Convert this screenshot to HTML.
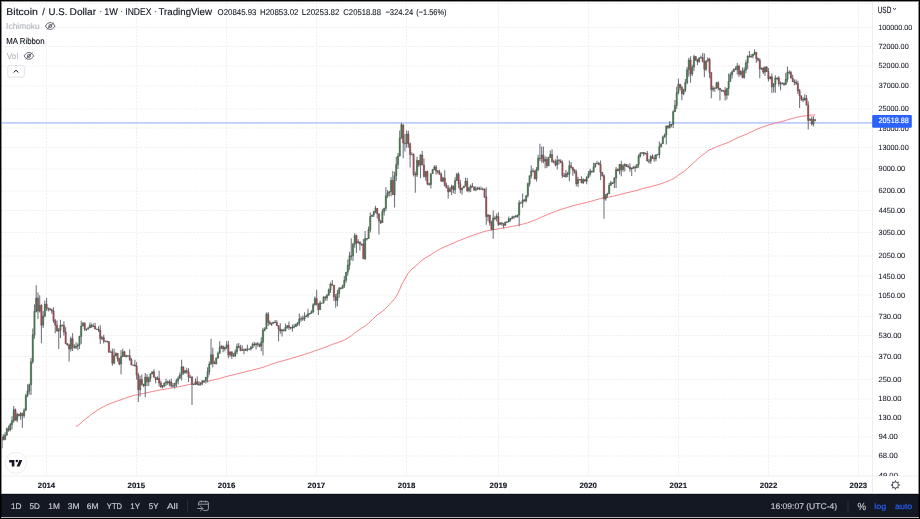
<!DOCTYPE html>
<html><head><meta charset="utf-8"><style>
html,body{margin:0;padding:0;}
body{width:920px;height:519px;overflow:hidden;position:relative;background:#fff;}
svg{position:absolute;left:0;top:0;font-family:"Liberation Sans", Arial, sans-serif;}
text{text-rendering:geometricPrecision;}
</style></head><body>
<svg width="920" height="519" viewBox="0 0 920 519">
<path d="M46.5 2V476 M136.5 2V476 M226.5 2V476 M316.5 2V476 M406.5 2V476 M498.5 2V476 M588.5 2V476 M678.5 2V476 M768.5 2V476 M858.5 2V476 M2 3.6H872 M2 27.5H872 M2 46.5H872 M2 66.0H872 M2 86.0H872 M2 109.0H872 M2 128.0H872 M2 147.5H872 M2 169.0H872 M2 191.0H872 M2 210.5H872 M2 232.5H872 M2 256.0H872 M2 276.0H872 M2 295.0H872 M2 316.5H872 M2 335.5H872 M2 356.5H872 M2 379.5H872 M2 399.0H872 M2 418.0H872 M2 437.0H872 M2 456.0H872" stroke="#efefef" stroke-width="1" stroke-dasharray="2 1.3" fill="none"/>
<line x1="872.5" y1="2" x2="872.5" y2="493" stroke="#eeeeee" stroke-width="1"/>
<line x1="1" y1="476" x2="918" y2="476" stroke="#efefef" stroke-width="1.2"/>
<line x1="2" y1="122.9" x2="872" y2="122.9" stroke="#bccdfd" stroke-width="1.8"/>
<path d="M76.03 426.73 L77.76 425.56 L79.49 424.24 L81.22 422.70 L82.95 421.12 L84.68 419.73 L86.41 418.37 L88.14 417.02 L89.88 415.63 L91.61 414.30 L93.34 413.00 L95.07 411.78 L96.80 410.59 L98.53 409.45 L100.26 408.47 L101.99 407.50 L103.72 406.60 L105.45 405.71 L107.19 404.85 L108.92 404.13 L110.65 403.42 L112.38 402.84 L114.11 402.18 L115.84 401.51 L117.57 400.91 L119.30 400.36 L121.03 399.75 L122.76 399.09 L124.50 398.48 L126.23 397.88 L127.96 397.28 L129.69 396.73 L131.42 396.22 L133.15 395.73 L134.88 395.24 L136.61 394.83 L138.34 394.51 L140.07 394.13 L141.81 393.79 L143.54 393.46 L145.27 393.07 L147.00 392.72 L148.73 392.35 L150.46 391.95 L152.19 391.55 L153.92 391.18 L155.65 390.84 L157.38 390.48 L159.12 390.17 L160.85 389.89 L162.58 389.60 L164.31 389.29 L166.04 388.98 L167.77 388.68 L169.50 388.37 L171.23 388.08 L172.96 387.79 L174.69 387.48 L176.43 387.17 L178.16 386.84 L179.89 386.49 L181.62 386.09 L183.35 385.73 L185.08 385.36 L186.81 385.00 L188.54 384.67 L190.27 384.34 L192.00 384.05 L193.74 383.76 L195.47 383.47 L197.20 383.18 L198.93 382.90 L200.66 382.61 L202.39 382.31 L204.12 382.01 L205.85 381.70 L207.58 381.35 L209.31 380.97 L211.05 380.52 L212.78 380.13 L214.51 379.75 L216.24 379.34 L217.97 378.89 L219.70 378.39 L221.43 377.89 L223.16 377.42 L224.89 376.94 L226.62 376.44 L228.36 376.02 L230.09 375.58 L231.82 375.18 L233.55 374.77 L235.28 374.35 L237.01 373.88 L238.74 373.43 L240.47 373.00 L242.20 372.57 L243.93 372.15 L245.66 371.72 L247.40 371.30 L249.13 370.88 L250.86 370.45 L252.59 370.00 L254.32 369.56 L256.05 369.11 L257.78 368.67 L259.51 368.25 L261.24 367.80 L262.98 367.25 L264.71 366.70 L266.44 366.00 L268.17 365.40 L269.90 364.82 L271.63 364.23 L273.36 363.64 L275.09 363.06 L276.82 362.52 L278.55 362.01 L280.29 361.53 L282.02 361.04 L283.75 360.56 L285.48 360.05 L287.21 359.54 L288.94 359.04 L290.67 358.56 L292.40 358.06 L294.13 357.58 L295.86 357.07 L297.60 356.56 L299.33 356.01 L301.06 355.47 L302.79 354.94 L304.52 354.39 L306.25 353.84 L307.98 353.28 L309.71 352.72 L311.44 352.15 L313.17 351.52 L314.91 350.82 L316.64 350.22 L318.37 349.68 L320.10 349.07 L321.83 348.47 L323.56 347.85 L325.29 347.25 L327.02 346.62 L328.75 345.93 L330.48 345.17 L332.22 344.44 L333.95 343.86 L335.68 343.33 L337.41 342.72 L339.14 342.05 L340.87 341.38 L342.60 340.70 L344.33 339.94 L346.06 339.06 L347.79 338.09 L349.53 336.96 L351.26 335.86 L352.99 334.54 L354.72 333.03 L356.45 331.74 L358.18 330.47 L359.91 329.28 L361.64 328.10 L363.37 327.22 L365.10 325.97 L366.84 324.75 L368.57 323.35 L370.30 321.63 L372.03 319.94 L373.76 318.19 L375.49 316.41 L377.22 314.88 L378.95 313.65 L380.68 312.58 L382.41 311.34 L384.15 309.95 L385.88 308.24 L387.61 306.39 L389.34 304.60 L391.07 302.50 L392.80 300.95 L394.53 298.78 L396.26 296.19 L397.99 293.30 L399.72 289.49 L401.46 284.97 L403.19 281.89 L404.92 278.99 L406.65 275.75 L408.38 273.16 L410.11 271.09 L411.84 269.07 L413.57 267.70 L415.30 266.37 L417.03 264.69 L418.77 263.18 L420.50 261.43 L422.23 260.00 L423.96 258.87 L425.69 257.66 L427.42 256.72 L429.15 255.82 L430.88 254.73 L432.61 253.57 L434.34 252.38 L436.08 251.30 L437.81 250.26 L439.54 249.28 L441.27 248.43 L443.00 247.54 L444.73 246.77 L446.46 246.04 L448.19 245.36 L449.92 244.66 L451.65 243.92 L453.39 243.25 L455.12 242.44 L456.85 241.56 L458.58 240.81 L460.31 240.16 L462.04 239.49 L463.77 238.81 L465.50 238.06 L467.23 237.45 L468.96 236.81 L470.70 236.16 L472.43 235.52 L474.16 234.93 L475.89 234.32 L477.62 233.71 L479.35 233.12 L481.08 232.53 L482.81 231.94 L484.54 231.43 L486.27 231.07 L488.01 230.71 L489.74 230.39 L491.47 230.12 L493.20 229.78 L494.93 229.45 L496.66 229.11 L498.39 228.82 L500.12 228.52 L501.85 228.22 L503.58 227.93 L505.32 227.63 L507.05 227.33 L508.78 227.01 L510.51 226.69 L512.24 226.37 L513.97 226.04 L515.70 225.72 L517.43 225.39 L519.16 224.98 L520.89 224.57 L522.62 224.15 L524.36 223.73 L526.09 223.28 L527.82 222.74 L529.55 222.11 L531.28 221.43 L533.01 220.77 L534.74 220.19 L536.47 219.52 L538.20 218.71 L539.94 217.91 L541.67 217.07 L543.40 216.34 L545.13 215.58 L546.86 214.92 L548.59 214.16 L550.32 213.37 L552.05 212.68 L553.78 212.01 L555.51 211.38 L557.25 210.71 L558.98 210.05 L560.71 209.42 L562.44 208.92 L564.17 208.44 L565.90 207.94 L567.63 207.45 L569.36 206.88 L571.09 206.34 L572.82 205.82 L574.56 205.33 L576.29 204.93 L578.02 204.50 L579.75 204.08 L581.48 203.68 L583.21 203.27 L584.94 202.86 L586.67 202.44 L588.40 201.99 L590.13 201.51 L591.87 201.05 L593.60 200.55 L595.33 200.02 L597.06 199.50 L598.79 198.99 L600.52 198.56 L602.25 198.15 L603.98 197.89 L605.71 197.60 L607.44 197.31 L609.18 196.98 L610.91 196.64 L612.64 196.31 L614.37 195.95 L616.10 195.52 L617.83 195.11 L619.56 194.65 L621.29 194.23 L623.02 193.79 L624.75 193.34 L626.49 192.90 L628.22 192.47 L629.95 192.07 L631.68 191.66 L633.41 191.24 L635.14 190.83 L636.87 190.40 L638.60 189.91 L640.33 189.39 L642.06 188.87 L643.80 188.37 L645.53 187.87 L647.26 187.44 L648.99 187.02 L650.72 186.56 L652.45 186.11 L654.18 185.68 L655.91 185.22 L657.64 184.76 L659.37 184.24 L661.11 183.70 L662.84 183.09 L664.57 182.46 L666.30 181.74 L668.03 181.04 L669.76 180.31 L671.49 179.60 L673.22 178.71 L674.95 177.74 L676.68 176.55 L678.42 175.20 L680.15 173.94 L681.88 172.84 L683.61 171.69 L685.34 170.41 L687.07 168.84 L688.80 167.04 L690.53 165.66 L692.26 164.16 L693.99 162.40 L695.73 160.80 L697.46 159.29 L699.19 157.73 L700.92 156.21 L702.65 154.82 L704.38 153.64 L706.11 152.29 L707.84 150.94 L709.57 149.88 L711.30 149.13 L713.04 148.37 L714.77 147.62 L716.50 146.83 L718.23 146.13 L719.96 145.46 L721.69 144.82 L723.42 144.18 L725.15 143.58 L726.88 142.91 L728.61 142.17 L730.35 141.35 L732.08 140.51 L733.81 139.65 L735.54 138.81 L737.27 137.95 L739.00 137.20 L740.73 136.46 L742.46 135.84 L744.19 135.15 L745.92 134.43 L747.66 133.67 L749.39 132.83 L751.12 132.00 L752.85 131.19 L754.58 130.30 L756.31 129.51 L758.04 128.75 L759.77 128.07 L761.50 127.39 L763.23 126.81 L764.97 126.16 L766.70 125.59 L768.43 125.09 L770.16 124.55 L771.89 124.13 L773.62 123.66 L775.35 123.12 L777.08 122.62 L778.81 122.18 L780.54 121.76 L782.28 121.32 L784.01 120.89 L785.74 120.42 L787.47 119.85 L789.20 119.31 L790.93 118.81 L792.66 118.35 L794.39 117.89 L796.12 117.46 L797.85 117.09 L799.59 116.75 L801.32 116.45 L803.05 116.18 L804.78 115.87 L806.51 115.60 L808.24 115.42 L809.97 115.23 L811.70 115.07 L813.43 114.88 L815.16 114.70" stroke="#f4707a" stroke-width="0.9" fill="none"/>
<path d="M1.59 435.09V449.43M3.32 434.32V440.52M5.06 432.19V440.21M6.79 427.47V435.71M8.52 425.48V431.64M10.25 423.04V431.44M11.98 416.20V429.57M13.71 406.03V422.79M15.44 408.56V420.39M17.17 412.72V422.29M18.90 413.73V416.49M20.64 412.03V419.75M22.37 412.70V427.70M24.10 408.36V418.01M25.83 393.74V410.84M27.56 384.36V397.15M29.29 383.40V394.39M31.02 357.93V394.89M32.75 328.38V363.85M34.48 304.19V338.73M36.21 285.36V312.60M37.95 292.40V318.96M39.68 295.13V312.60M41.41 304.19V343.37M43.14 311.11V328.02M44.87 300.40V317.30M46.60 298.00V311.11M48.33 307.80V311.59M50.06 307.77V310.86M51.79 308.71V313.86M53.52 307.23V322.91M55.26 318.96V333.13M56.99 320.62V331.81M58.72 328.02V348.97M60.45 319.75V338.03M62.18 324.52V326.46M63.91 321.36V335.59M65.64 327.16V344.37M67.37 343.12V345.83M69.10 343.63V361.39M70.83 336.53V351.39M72.56 333.28V351.10M74.30 344.27V348.71M76.03 342.23V348.94M77.76 343.18V350.16M79.49 335.71V349.02M81.22 320.65V343.88M82.95 321.97V326.46M84.68 322.29V331.11M86.41 328.79V331.06M88.14 326.70V329.84M89.88 322.62V328.08M91.61 323.42V328.01M93.34 323.56V326.88M95.07 322.75V329.34M96.80 328.74V329.53M98.53 326.24V332.11M100.26 325.24V343.96M101.99 335.97V340.04M103.72 334.64V343.45M105.45 340.52V341.38M107.19 340.84V342.86M108.92 340.99V353.04M110.65 350.84V351.84M112.38 348.44V365.80M114.11 348.73V364.34M115.84 352.34V356.51M117.57 353.29V361.83M119.30 357.83V365.23M121.03 350.04V374.29M122.76 348.66V357.14M124.50 350.69V357.12M126.23 354.79V357.72M127.96 355.14V356.56M129.69 349.25V360.68M131.42 358.01V365.26M133.15 364.56V365.06M134.88 359.75V366.86M136.61 361.95V379.84M138.34 372.80V402.12M140.07 375.87V396.53M141.81 374.58V385.42M143.54 383.65V386.96M145.27 373.06V397.13M147.00 374.04V386.27M148.73 376.51V385.96M150.46 373.36V381.83M152.19 371.42V374.30M153.92 369.33V377.60M155.65 376.95V383.16M157.38 376.18V380.07M159.12 370.68V386.59M160.85 380.65V387.70M162.58 385.37V388.46M164.31 382.56V387.20M166.04 378.77V386.31M167.77 380.60V385.12M169.50 379.77V386.22M171.23 378.52V387.71M172.96 383.11V387.33M174.69 383.09V388.45M176.43 378.85V387.00M178.16 376.24V384.43M179.89 372.42V378.76M181.62 359.78V380.53M183.35 366.51V374.80M185.08 369.83V373.74M186.81 367.79V373.86M188.54 368.33V381.97M190.27 374.65V377.47M192.00 376.03V404.95M193.74 384.16V384.58M195.47 378.55V384.99M197.20 376.61V385.29M198.93 381.18V385.82M200.66 382.44V385.64M202.39 380.62V385.11M204.12 380.51V383.03M205.85 376.99V383.45M207.58 367.29V382.39M209.31 361.61V375.10M211.05 338.73V364.95M212.78 347.77V367.39M214.51 360.75V364.07M216.24 357.41V364.14M217.97 351.62V358.72M219.70 341.17V353.48M221.43 345.22V348.88M223.16 345.76V352.14M224.89 346.43V351.28M226.62 341.05V349.06M228.36 340.79V358.32M230.09 351.82V356.92M231.82 351.39V358.92M233.55 352.94V356.77M235.28 349.39V357.19M237.01 343.45V354.33M238.74 343.11V347.84M240.47 344.76V351.29M242.20 345.27V351.03M243.93 348.45V354.29M245.66 348.29V350.93M247.40 344.80V351.40M249.13 348.46V349.79M250.86 345.97V350.57M252.59 342.57V348.44M254.32 341.76V346.20M256.05 342.70V349.44M257.78 341.93V346.85M259.51 343.61V347.31M261.24 337.29V351.25M262.98 327.78V355.49M264.71 327.16V331.41M266.44 312.60V329.00M268.17 312.01V325.98M269.90 320.44V324.42M271.63 322.73V325.89M273.36 321.90V323.72M275.09 320.10V323.09M276.82 320.17V325.88M278.55 325.62V341.13M280.29 323.24V333.68M282.02 328.74V336.51M283.75 328.85V331.43M285.48 323.45V331.60M287.21 325.47V328.71M288.94 321.42V329.89M290.67 326.92V329.35M292.40 324.44V331.76M294.13 323.98V328.31M295.86 323.54V327.00M297.60 322.03V326.31M299.33 313.42V325.77M301.06 316.35V321.53M302.79 315.44V320.83M304.52 312.31V320.92M306.25 314.49V316.98M307.98 308.87V317.88M309.71 313.25V314.72M311.44 310.31V313.62M313.17 303.26V313.19M314.91 296.51V305.55M316.64 289.79V305.51M318.37 302.90V314.90M320.10 300.78V309.66M321.83 302.71V303.18M323.56 296.83V303.48M325.29 296.56V300.64M327.02 294.10V300.67M328.75 288.46V295.72M330.48 282.53V292.98M332.22 280.08V285.49M333.95 284.89V301.01M335.68 294.03V307.82M337.41 289.95V306.19M339.14 287.12V297.83M340.87 286.94V289.20M342.60 284.67V288.70M344.33 275.90V288.09M346.06 272.17V282.67M347.79 259.53V275.80M349.53 251.78V269.72M351.26 238.35V260.28M352.99 242.79V261.05M354.72 233.13V247.85M356.45 234.67V253.12M358.18 239.37V243.44M359.91 241.64V250.57M361.64 243.56V245.72M363.37 239.08V258.79M365.10 231.10V260.05M366.84 237.93V240.58M368.57 226.61V238.66M370.30 212.39V232.44M372.03 214.65V216.66M373.76 210.98V216.92M375.49 205.67V213.26M377.22 208.31V218.40M378.95 213.67V234.43M380.68 219.66V223.98M382.41 209.09V222.98M384.15 207.73V215.39M385.88 187.37V210.92M387.61 190.03V197.99M389.34 191.37V196.48M391.07 176.91V196.21M392.80 171.04V194.99M394.53 171.86V207.42M396.26 156.65V180.92M397.99 152.97V168.89M399.72 130.49V156.57M401.46 122.86V138.87M403.19 124.68V158.18M404.92 133.99V151.50M406.65 130.49V147.74M408.38 130.83V147.74M410.11 142.51V167.60M411.84 152.35V154.53M413.57 153.16V176.49M415.30 171.56V192.72M417.03 156.70V177.04M418.77 160.14V167.11M420.50 154.26V178.11M422.23 150.94V165.26M423.96 158.52V177.48M425.69 171.12V180.85M427.42 170.38V185.18M429.15 182.76V185.72M430.88 173.49V188.44M432.61 169.15V173.83M434.34 165.22V170.26M436.08 165.02V174.72M437.81 170.10V173.83M439.54 169.76V174.63M441.27 172.68V181.56M443.00 176.74V182.25M444.73 170.26V186.53M446.46 182.75V188.31M448.19 185.08V198.53M449.92 187.10V192.36M451.65 184.78V194.91M453.39 185.38V193.37M455.12 177.31V193.90M456.85 172.72V180.91M458.58 172.32V188.24M460.31 179.87V193.32M462.04 187.46V194.76M463.77 185.74V188.06M465.50 177.78V186.31M467.23 177.92V191.87M468.96 186.60V192.56M470.70 184.55V192.02M472.43 183.02V187.15M474.16 186.46V190.91M475.89 186.17V191.27M477.62 186.69V189.89M479.35 186.65V190.37M481.08 186.62V188.94M482.81 187.74V190.37M484.54 188.74V197.94M486.27 187.35V224.67M488.01 214.00V221.61M489.74 215.08V225.69M491.47 220.51V229.81M493.20 210.38V238.65M494.93 215.67V220.21M496.66 213.41V221.60M498.39 212.32V226.12M500.12 222.60V225.07M501.85 222.49V225.74M503.58 223.50V228.46M505.32 221.74V226.04M507.05 221.10V222.33M508.78 216.53V222.33M510.51 217.94V221.61M512.24 215.66V219.03M513.97 215.63V218.67M515.70 214.91V217.17M517.43 214.47V217.65M519.16 200.16V226.20M520.89 201.62V202.87M522.62 193.47V207.65M524.36 198.95V201.47M526.09 195.25V202.41M527.82 182.53V197.51M529.55 175.62V186.60M531.28 165.47V178.52M533.01 168.24V172.25M534.74 170.21V179.60M536.47 166.95V181.48M538.20 154.84V170.98M539.94 143.77V160.96M541.67 146.39V162.70M543.40 146.39V163.29M545.13 156.57V168.24M546.86 156.39V167.91M548.59 157.10V166.34M550.32 150.54V157.64M552.05 149.29V162.66M553.78 159.85V163.45M555.51 159.28V166.34M557.25 155.40V169.49M558.98 158.71V164.39M560.71 159.35V162.99M562.44 160.48V177.69M564.17 172.96V176.97M565.90 170.05V178.00M567.63 171.70V177.06M569.36 160.40V181.19M571.09 162.05V168.57M572.82 167.01V175.87M574.56 169.04V173.80M576.29 169.86V186.25M578.02 176.85V187.00M579.75 179.09V180.04M581.48 176.34V183.35M583.21 178.23V184.02M584.94 179.35V181.38M586.67 176.34V184.15M588.40 170.99V178.22M590.13 168.70V176.39M591.87 170.74V173.03M593.60 162.71V172.69M595.33 163.09V167.49M597.06 160.71V163.32M598.79 161.91V165.26M600.52 160.45V180.07M602.25 172.15V176.51M603.98 174.36V218.79M605.71 193.94V200.64M607.44 192.75V197.95M609.18 182.81V193.78M610.91 180.82V185.75M612.64 182.28V183.99M614.37 177.17V187.96M616.10 166.94V188.07M617.83 168.21V170.92M619.56 163.91V174.43M621.29 160.86V176.28M623.02 164.09V171.75M624.75 163.21V171.42M626.49 164.04V166.90M628.22 164.58V167.68M629.95 163.34V171.74M631.68 167.52V175.93M633.41 165.68V168.99M635.14 165.60V171.71M636.87 164.47V168.25M638.60 154.14V167.83M640.33 151.98V157.60M642.06 152.40V153.61M643.80 152.11V155.97M645.53 152.55V154.25M647.26 151.11V161.52M648.99 158.97V163.59M650.72 155.25V163.77M652.45 154.28V158.93M654.18 155.28V161.86M655.91 154.11V161.18M657.64 154.11V155.28M659.37 141.40V158.17M661.11 143.70V147.56M662.84 135.74V144.05M664.57 133.60V137.78M666.30 125.77V144.46M668.03 125.01V128.99M669.76 121.06V128.45M671.49 124.16V127.23M673.22 110.17V128.09M674.95 100.08V111.88M676.68 86.73V109.09M678.42 78.51V94.35M680.15 83.96V90.39M681.88 85.82V100.14M683.61 88.77V95.14M685.34 79.00V92.12M687.07 67.01V84.13M688.80 57.83V76.71M690.53 56.14V82.83M692.26 64.69V76.04M693.99 54.70V71.01M695.73 56.23V60.97M697.46 58.73V65.27M699.19 57.69V62.70M700.92 55.44V58.19M702.65 52.89V62.53M704.38 53.62V77.28M706.11 60.69V70.96M707.84 57.14V62.32M709.57 57.84V78.15M711.30 72.52V98.15M713.04 85.80V91.83M714.77 87.71V91.78M716.50 81.95V89.09M718.23 81.35V90.31M719.96 87.92V100.54M721.69 89.83V92.12M723.42 90.42V92.19M725.15 87.03V100.58M726.88 88.25V99.53M728.61 73.47V95.44M730.35 72.41V81.65M732.08 70.46V78.39M733.81 68.22V71.83M735.54 66.13V69.96M737.27 63.01V74.52M739.00 64.82V76.99M740.73 70.36V75.42M742.46 67.44V78.13M744.19 67.27V78.87M745.92 60.27V73.31M747.66 55.59V69.21M749.39 50.93V57.71M751.12 54.09V57.91M752.85 53.84V58.29M754.58 49.20V55.21M756.31 52.13V63.04M758.04 57.54V61.46M759.77 58.30V78.37M761.50 67.47V69.98M763.23 67.30V73.91M764.97 66.15V75.89M766.70 66.01V71.90M768.43 67.92V81.49M770.16 76.24V79.40M771.89 73.54V92.90M773.62 82.88V92.55M775.35 75.24V92.70M777.08 77.23V80.24M778.81 76.07V86.44M780.54 81.54V90.27M782.28 82.22V84.43M784.01 82.83V86.02M785.74 73.11V84.81M787.47 66.38V82.52M789.20 70.28V74.32M790.93 70.72V78.55M792.66 74.83V82.00M794.39 79.18V85.18M796.12 79.50V85.09M797.85 80.63V93.96M799.59 89.09V107.93M801.32 95.65V100.95M803.05 96.98V102.20M804.78 94.35V100.14M806.51 94.91V105.21M808.24 101.16V129.48M809.97 118.41V120.60M811.70 116.50V125.41M813.43 116.29V126.39M815.16 119.52V121.23" stroke="#74777f" stroke-width="1.1" fill="none"/>
<path d="M0.89 436.94h1.4V447.90h-1.4zM4.36 435.09h1.4V439.49h-1.4zM6.09 428.78h1.4V435.09h-1.4zM9.55 424.58h1.4V429.88h-1.4zM11.28 420.66h1.4V424.58h-1.4zM13.01 409.87h1.4V420.66h-1.4zM16.47 414.37h1.4V420.19h-1.4zM19.94 413.53h1.4V415.67h-1.4zM23.40 410.26h1.4V415.67h-1.4zM25.13 395.58h1.4V410.26h-1.4zM26.86 391.12h1.4V395.58h-1.4zM28.59 384.87h1.4V391.12h-1.4zM30.32 361.74h1.4V384.87h-1.4zM32.05 334.86h1.4V361.74h-1.4zM33.78 311.48h1.4V334.86h-1.4zM35.51 298.00h1.4V311.48h-1.4zM38.98 305.51h1.4V311.11h-1.4zM42.44 316.01h1.4V325.15h-1.4zM44.17 304.19h1.4V316.01h-1.4zM58.02 330.01h1.4V331.03h-1.4zM59.75 325.15h1.4V330.01h-1.4zM61.48 325.15h1.4V325.75h-1.4zM70.13 338.73h1.4V348.97h-1.4zM75.33 346.24h1.4V347.59h-1.4zM77.06 344.92h1.4V346.24h-1.4zM78.79 336.42h1.4V344.92h-1.4zM80.52 326.09h1.4V336.42h-1.4zM82.25 323.31h1.4V326.09h-1.4zM85.71 329.00h1.4V329.60h-1.4zM87.44 328.02h1.4V329.00h-1.4zM89.17 325.15h1.4V328.02h-1.4zM92.64 326.09h1.4V326.69h-1.4zM96.10 329.00h1.4V329.60h-1.4zM101.29 337.57h1.4V338.73h-1.4zM104.75 341.13h1.4V341.73h-1.4zM109.95 351.84h1.4V352.44h-1.4zM113.41 355.63h1.4V363.15h-1.4zM115.14 353.33h1.4V355.63h-1.4zM120.33 356.42h1.4V364.04h-1.4zM122.06 351.84h1.4V356.42h-1.4zM125.53 355.63h1.4V356.42h-1.4zM127.26 355.63h1.4V356.23h-1.4zM132.45 364.95h1.4V365.55h-1.4zM139.37 379.46h1.4V389.70h-1.4zM144.57 377.15h1.4V385.65h-1.4zM148.03 378.30h1.4V381.86h-1.4zM149.76 373.86h1.4V378.30h-1.4zM151.49 371.76h1.4V373.86h-1.4zM156.68 378.30h1.4V379.46h-1.4zM161.88 385.65h1.4V386.97h-1.4zM163.61 383.09h1.4V385.65h-1.4zM165.34 381.86h1.4V383.09h-1.4zM168.80 381.86h1.4V383.09h-1.4zM172.26 385.65h1.4V386.25h-1.4zM173.99 383.09h1.4V385.65h-1.4zM175.73 380.65h1.4V383.09h-1.4zM177.46 378.30h1.4V380.65h-1.4zM179.19 374.94h1.4V378.30h-1.4zM180.92 366.82h1.4V374.94h-1.4zM184.38 370.74h1.4V372.80h-1.4zM189.57 377.15h1.4V377.75h-1.4zM193.04 384.36h1.4V384.96h-1.4zM194.77 381.86h1.4V384.36h-1.4zM198.23 384.36h1.4V384.96h-1.4zM199.96 383.09h1.4V384.36h-1.4zM201.69 380.65h1.4V383.09h-1.4zM203.42 380.65h1.4V381.25h-1.4zM205.15 377.15h1.4V380.65h-1.4zM206.88 371.76h1.4V377.15h-1.4zM208.61 364.04h1.4V371.76h-1.4zM210.35 354.86h1.4V364.04h-1.4zM215.54 358.03h1.4V364.04h-1.4zM217.27 353.33h1.4V358.03h-1.4zM219.00 346.91h1.4V353.33h-1.4zM220.73 346.24h1.4V346.91h-1.4zM224.19 347.59h1.4V348.97h-1.4zM225.92 344.92h1.4V347.59h-1.4zM229.39 351.84h1.4V354.86h-1.4zM232.85 355.63h1.4V356.23h-1.4zM234.58 351.84h1.4V355.63h-1.4zM236.31 346.24h1.4V351.84h-1.4zM241.50 349.68h1.4V350.39h-1.4zM244.97 349.68h1.4V350.39h-1.4zM246.70 348.97h1.4V349.68h-1.4zM248.43 348.97h1.4V349.57h-1.4zM250.16 347.59h1.4V348.97h-1.4zM251.89 344.27h1.4V347.59h-1.4zM255.35 343.63h1.4V344.92h-1.4zM260.54 342.37h1.4V346.24h-1.4zM262.28 330.01h1.4V342.37h-1.4zM264.01 329.00h1.4V330.01h-1.4zM265.74 314.13h1.4V329.00h-1.4zM270.93 323.31h1.4V324.22h-1.4zM272.66 321.97h1.4V323.31h-1.4zM281.32 330.01h1.4V331.03h-1.4zM284.78 327.53h1.4V330.52h-1.4zM286.51 325.62h1.4V327.53h-1.4zM291.70 327.04h1.4V328.02h-1.4zM293.43 326.57h1.4V327.17h-1.4zM295.16 324.22h1.4V326.57h-1.4zM296.90 322.86h1.4V324.22h-1.4zM298.63 318.96h1.4V322.86h-1.4zM300.36 318.54h1.4V319.14h-1.4zM303.82 316.49h1.4V318.96h-1.4zM305.55 316.09h1.4V316.69h-1.4zM307.28 313.74h1.4V316.09h-1.4zM309.01 313.36h1.4V313.96h-1.4zM310.74 311.85h1.4V313.36h-1.4zM312.47 304.85h1.4V311.85h-1.4zM314.21 298.59h1.4V304.85h-1.4zM319.40 302.90h1.4V309.66h-1.4zM321.13 302.90h1.4V303.50h-1.4zM322.86 296.84h1.4V302.90h-1.4zM326.32 295.13h1.4V298.00h-1.4zM328.05 289.79h1.4V295.13h-1.4zM329.78 283.96h1.4V289.79h-1.4zM336.71 293.48h1.4V300.40h-1.4zM338.44 288.27h1.4V293.48h-1.4zM340.17 288.27h1.4V288.87h-1.4zM341.90 285.84h1.4V288.27h-1.4zM343.63 280.37h1.4V285.84h-1.4zM345.36 272.25h1.4V280.37h-1.4zM347.09 265.12h1.4V272.25h-1.4zM348.83 255.82h1.4V265.12h-1.4zM350.56 255.82h1.4V256.42h-1.4zM352.29 244.16h1.4V255.82h-1.4zM354.02 235.44h1.4V244.16h-1.4zM357.48 241.85h1.4V243.00h-1.4zM360.94 244.16h1.4V244.76h-1.4zM364.40 238.56h1.4V258.76h-1.4zM366.14 238.56h1.4V239.16h-1.4zM367.87 229.65h1.4V238.56h-1.4zM369.60 216.54h1.4V229.65h-1.4zM371.33 215.09h1.4V216.54h-1.4zM373.06 211.61h1.4V215.09h-1.4zM374.79 208.33h1.4V211.61h-1.4zM381.71 211.61h1.4V222.73h-1.4zM383.45 208.33h1.4V211.61h-1.4zM385.18 195.73h1.4V208.33h-1.4zM386.91 192.72h1.4V195.73h-1.4zM388.64 191.74h1.4V192.72h-1.4zM390.37 180.39h1.4V191.74h-1.4zM393.83 175.81h1.4V194.71h-1.4zM395.56 164.49h1.4V175.81h-1.4zM397.29 156.04h1.4V164.49h-1.4zM399.02 138.10h1.4V156.04h-1.4zM400.76 124.68h1.4V138.10h-1.4zM405.95 133.99h1.4V143.35h-1.4zM411.14 154.49h1.4V155.09h-1.4zM416.33 160.40h1.4V175.08h-1.4zM419.80 155.00h1.4V165.10h-1.4zM424.99 171.56h1.4V176.55h-1.4zM430.18 173.65h1.4V184.50h-1.4zM431.91 169.55h1.4V173.65h-1.4zM433.64 166.96h1.4V169.55h-1.4zM442.30 178.06h1.4V181.19h-1.4zM449.22 188.92h1.4V191.74h-1.4zM450.95 186.23h1.4V188.92h-1.4zM454.42 180.39h1.4V189.85h-1.4zM456.15 174.36h1.4V180.39h-1.4zM461.34 188.01h1.4V189.85h-1.4zM463.07 186.23h1.4V188.01h-1.4zM464.80 181.19h1.4V186.23h-1.4zM468.26 188.01h1.4V190.79h-1.4zM470.00 186.23h1.4V188.01h-1.4zM475.19 188.92h1.4V189.85h-1.4zM476.92 188.01h1.4V188.92h-1.4zM480.38 188.92h1.4V189.52h-1.4zM482.11 188.92h1.4V189.52h-1.4zM487.31 215.09h1.4V216.54h-1.4zM492.50 218.03h1.4V229.65h-1.4zM494.23 218.03h1.4V218.63h-1.4zM495.96 216.54h1.4V218.03h-1.4zM499.42 222.73h1.4V224.39h-1.4zM504.62 221.92h1.4V225.23h-1.4zM506.35 221.92h1.4V222.52h-1.4zM508.08 218.79h1.4V221.92h-1.4zM509.81 218.79h1.4V219.39h-1.4zM511.54 217.28h1.4V218.79h-1.4zM513.27 216.54h1.4V217.28h-1.4zM515.00 216.54h1.4V217.14h-1.4zM516.73 215.09h1.4V216.54h-1.4zM518.46 202.84h1.4V215.09h-1.4zM520.19 202.84h1.4V203.44h-1.4zM521.92 200.01h1.4V202.84h-1.4zM525.39 195.73h1.4V201.12h-1.4zM527.12 183.66h1.4V195.73h-1.4zM528.85 175.81h1.4V183.66h-1.4zM530.58 170.88h1.4V175.81h-1.4zM532.31 170.88h1.4V171.48h-1.4zM535.77 169.55h1.4V178.83h-1.4zM537.50 158.18h1.4V169.55h-1.4zM539.24 158.18h1.4V158.78h-1.4zM540.97 155.00h1.4V158.18h-1.4zM544.43 159.28h1.4V161.25h-1.4zM547.89 157.37h1.4V165.71h-1.4zM549.62 154.49h1.4V157.37h-1.4zM556.54 160.40h1.4V165.10h-1.4zM565.20 173.65h1.4V176.55h-1.4zM568.66 165.71h1.4V174.36h-1.4zM577.32 179.60h1.4V183.66h-1.4zM579.05 179.60h1.4V180.20h-1.4zM582.51 179.60h1.4V182.82h-1.4zM585.97 177.30h1.4V181.19h-1.4zM587.70 174.36h1.4V177.30h-1.4zM589.43 170.88h1.4V174.36h-1.4zM592.90 166.96h1.4V171.56h-1.4zM594.63 163.29h1.4V166.96h-1.4zM596.36 163.29h1.4V163.89h-1.4zM605.01 194.71h1.4V198.91h-1.4zM606.74 193.70h1.4V194.71h-1.4zM608.48 185.36h1.4V193.70h-1.4zM610.21 182.82h1.4V185.36h-1.4zM611.94 182.82h1.4V183.42h-1.4zM613.67 178.06h1.4V182.82h-1.4zM615.40 169.55h1.4V178.06h-1.4zM618.86 164.49h1.4V170.88h-1.4zM622.32 165.71h1.4V169.55h-1.4zM624.05 164.49h1.4V165.71h-1.4zM630.98 168.24h1.4V168.89h-1.4zM632.71 167.28h1.4V168.24h-1.4zM636.17 164.49h1.4V167.60h-1.4zM637.90 156.04h1.4V164.49h-1.4zM639.63 153.47h1.4V156.04h-1.4zM641.36 152.48h1.4V153.47h-1.4zM644.83 153.47h1.4V154.07h-1.4zM648.29 160.96h1.4V161.56h-1.4zM650.02 156.57h1.4V160.96h-1.4zM655.21 155.00h1.4V158.72h-1.4zM656.94 154.49h1.4V155.09h-1.4zM658.67 146.83h1.4V154.49h-1.4zM660.40 143.77h1.4V146.83h-1.4zM662.14 136.95h1.4V143.77h-1.4zM663.87 135.08h1.4V136.95h-1.4zM665.60 125.92h1.4V135.08h-1.4zM669.06 124.37h1.4V127.51h-1.4zM670.79 124.37h1.4V124.97h-1.4zM672.52 111.75h1.4V124.37h-1.4zM674.25 105.43h1.4V111.75h-1.4zM675.98 92.55h1.4V105.43h-1.4zM677.72 84.26h1.4V92.55h-1.4zM682.91 90.27h1.4V93.80h-1.4zM684.64 82.73h1.4V90.27h-1.4zM686.37 69.80h1.4V82.73h-1.4zM688.10 60.02h1.4V69.80h-1.4zM691.56 67.08h1.4V74.06h-1.4zM693.29 56.44h1.4V67.08h-1.4zM698.49 57.71h1.4V61.68h-1.4zM700.22 57.61h1.4V58.21h-1.4zM705.41 60.84h1.4V69.32h-1.4zM707.14 59.21h1.4V60.84h-1.4zM712.34 88.09h1.4V89.59h-1.4zM714.07 87.76h1.4V88.36h-1.4zM715.80 82.73h1.4V87.76h-1.4zM722.72 90.45h1.4V91.05h-1.4zM726.18 88.42h1.4V95.28h-1.4zM727.91 81.54h1.4V88.42h-1.4zM729.64 74.84h1.4V81.54h-1.4zM731.38 71.77h1.4V74.84h-1.4zM733.11 69.32h1.4V71.77h-1.4zM736.57 66.05h1.4V69.44h-1.4zM740.03 71.52h1.4V74.32h-1.4zM743.49 70.28h1.4V77.40h-1.4zM745.22 62.85h1.4V70.28h-1.4zM746.96 55.97h1.4V62.85h-1.4zM750.42 56.16h1.4V56.76h-1.4zM752.15 54.27h1.4V56.16h-1.4zM753.88 52.26h1.4V54.27h-1.4zM760.80 68.01h1.4V68.84h-1.4zM764.26 67.20h1.4V72.14h-1.4zM769.46 76.86h1.4V78.65h-1.4zM772.92 84.41h1.4V86.94h-1.4zM774.65 78.10h1.4V84.41h-1.4zM776.38 78.10h1.4V78.70h-1.4zM779.84 83.49h1.4V84.09h-1.4zM781.58 83.03h1.4V83.63h-1.4zM785.04 79.36h1.4V84.57h-1.4zM786.77 72.02h1.4V79.36h-1.4zM804.08 98.34h1.4V100.14h-1.4zM809.27 119.10h1.4V120.52h-1.4zM812.73 119.52h1.4V124.06h-1.4z" fill="#4a8a52" stroke="#2e3138" stroke-width="0.3"/>
<path d="M2.62 436.94h1.4V439.49h-1.4zM7.82 428.78h1.4V429.88h-1.4zM14.74 409.87h1.4V420.19h-1.4zM18.20 414.37h1.4V415.67h-1.4zM21.67 413.53h1.4V415.67h-1.4zM37.24 298.00h1.4V311.11h-1.4zM40.71 305.51h1.4V325.15h-1.4zM45.90 304.19h1.4V308.04h-1.4zM47.63 308.04h1.4V308.95h-1.4zM49.36 308.95h1.4V309.66h-1.4zM51.09 309.66h1.4V311.11h-1.4zM52.82 311.11h1.4V320.66h-1.4zM54.55 320.66h1.4V325.15h-1.4zM56.29 325.15h1.4V331.03h-1.4zM63.21 325.15h1.4V332.07h-1.4zM64.94 332.07h1.4V343.63h-1.4zM66.67 343.63h1.4V344.92h-1.4zM68.40 344.92h1.4V348.97h-1.4zM71.86 338.73h1.4V346.24h-1.4zM73.60 346.24h1.4V347.59h-1.4zM83.98 323.31h1.4V329.00h-1.4zM90.91 325.15h1.4V326.09h-1.4zM94.37 326.09h1.4V329.00h-1.4zM97.83 329.00h1.4V330.01h-1.4zM99.56 330.01h1.4V338.73h-1.4zM103.02 337.57h1.4V341.13h-1.4zM106.48 341.13h1.4V341.74h-1.4zM108.22 341.74h1.4V351.84h-1.4zM111.68 351.84h1.4V363.15h-1.4zM116.87 353.33h1.4V358.85h-1.4zM118.60 358.85h1.4V364.04h-1.4zM123.80 351.84h1.4V356.42h-1.4zM128.99 355.63h1.4V359.69h-1.4zM130.72 359.69h1.4V364.95h-1.4zM134.18 364.95h1.4V365.88h-1.4zM135.91 365.88h1.4V374.94h-1.4zM137.64 374.94h1.4V389.70h-1.4zM141.11 379.46h1.4V384.36h-1.4zM142.84 384.36h1.4V385.65h-1.4zM146.30 377.15h1.4V381.86h-1.4zM153.22 371.76h1.4V377.15h-1.4zM154.95 377.15h1.4V379.46h-1.4zM158.42 378.30h1.4V383.09h-1.4zM160.15 383.09h1.4V386.97h-1.4zM167.07 381.86h1.4V383.09h-1.4zM170.53 381.86h1.4V385.65h-1.4zM182.65 366.82h1.4V372.80h-1.4zM186.11 370.74h1.4V371.76h-1.4zM187.84 371.76h1.4V377.15h-1.4zM191.30 377.15h1.4V384.36h-1.4zM196.50 381.86h1.4V384.36h-1.4zM212.08 354.86h1.4V363.15h-1.4zM213.81 363.15h1.4V364.04h-1.4zM222.46 346.24h1.4V348.97h-1.4zM227.66 344.92h1.4V354.86h-1.4zM231.12 351.84h1.4V355.63h-1.4zM238.04 346.24h1.4V347.59h-1.4zM239.77 347.59h1.4V350.39h-1.4zM243.23 349.68h1.4V350.39h-1.4zM253.62 344.27h1.4V344.92h-1.4zM257.08 343.63h1.4V344.27h-1.4zM258.81 344.27h1.4V346.24h-1.4zM267.47 314.13h1.4V322.42h-1.4zM269.20 322.42h1.4V324.22h-1.4zM274.39 321.97h1.4V322.57h-1.4zM276.12 322.42h1.4V325.62h-1.4zM277.85 325.62h1.4V329.00h-1.4zM279.59 329.00h1.4V331.03h-1.4zM283.05 330.01h1.4V330.61h-1.4zM288.24 325.62h1.4V327.53h-1.4zM289.97 327.53h1.4V328.13h-1.4zM302.09 318.54h1.4V319.14h-1.4zM315.94 298.59h1.4V304.19h-1.4zM317.67 304.19h1.4V309.66h-1.4zM324.59 296.84h1.4V298.00h-1.4zM331.52 283.96h1.4V285.36h-1.4zM333.25 285.36h1.4V296.84h-1.4zM334.98 296.84h1.4V300.40h-1.4zM355.75 235.44h1.4V243.00h-1.4zM359.21 241.85h1.4V244.16h-1.4zM362.67 244.16h1.4V258.76h-1.4zM376.52 208.33h1.4V213.67h-1.4zM378.25 213.67h1.4V221.12h-1.4zM379.98 221.12h1.4V222.73h-1.4zM392.10 180.39h1.4V194.71h-1.4zM402.49 124.68h1.4V142.93h-1.4zM404.22 142.93h1.4V143.53h-1.4zM407.68 133.99h1.4V143.77h-1.4zM409.41 143.77h1.4V154.49h-1.4zM412.87 154.49h1.4V174.36h-1.4zM414.60 174.36h1.4V175.08h-1.4zM418.07 160.40h1.4V165.10h-1.4zM421.53 155.00h1.4V165.10h-1.4zM423.26 165.10h1.4V176.55h-1.4zM426.72 171.56h1.4V183.66h-1.4zM428.45 183.66h1.4V184.50h-1.4zM435.38 166.96h1.4V170.88h-1.4zM437.11 170.88h1.4V172.25h-1.4zM438.84 172.25h1.4V174.36h-1.4zM440.57 174.36h1.4V181.19h-1.4zM444.03 178.06h1.4V185.36h-1.4zM445.76 185.36h1.4V188.01h-1.4zM447.49 188.01h1.4V191.74h-1.4zM452.69 186.23h1.4V189.85h-1.4zM457.88 174.36h1.4V183.66h-1.4zM459.61 183.66h1.4V189.85h-1.4zM466.53 181.19h1.4V190.79h-1.4zM471.73 186.23h1.4V187.12h-1.4zM473.46 187.12h1.4V189.85h-1.4zM478.65 188.01h1.4V188.92h-1.4zM483.84 188.92h1.4V196.77h-1.4zM485.57 196.77h1.4V216.54h-1.4zM489.04 215.09h1.4V222.73h-1.4zM490.77 222.73h1.4V229.65h-1.4zM497.69 216.54h1.4V224.39h-1.4zM501.15 222.73h1.4V223.55h-1.4zM502.88 223.55h1.4V225.23h-1.4zM523.66 200.01h1.4V201.12h-1.4zM534.04 170.88h1.4V178.83h-1.4zM542.70 155.00h1.4V161.25h-1.4zM546.16 159.28h1.4V165.71h-1.4zM551.35 154.49h1.4V161.54h-1.4zM553.08 161.54h1.4V162.14h-1.4zM554.81 162.12h1.4V165.10h-1.4zM558.28 160.40h1.4V161.00h-1.4zM560.01 160.96h1.4V162.70h-1.4zM561.74 162.70h1.4V175.81h-1.4zM563.47 175.81h1.4V176.55h-1.4zM566.93 173.65h1.4V174.36h-1.4zM570.39 165.71h1.4V167.60h-1.4zM572.12 167.60h1.4V170.21h-1.4zM573.86 170.21h1.4V172.25h-1.4zM575.59 172.25h1.4V183.66h-1.4zM580.78 179.60h1.4V182.82h-1.4zM584.24 179.60h1.4V181.19h-1.4zM591.16 170.88h1.4V171.56h-1.4zM598.09 163.29h1.4V164.49h-1.4zM599.82 164.49h1.4V172.25h-1.4zM601.55 172.25h1.4V175.81h-1.4zM603.28 175.81h1.4V198.91h-1.4zM617.13 169.55h1.4V170.88h-1.4zM620.59 164.49h1.4V169.55h-1.4zM625.78 164.49h1.4V166.34h-1.4zM627.52 166.34h1.4V166.96h-1.4zM629.25 166.96h1.4V168.89h-1.4zM634.44 167.28h1.4V167.88h-1.4zM643.10 152.48h1.4V153.98h-1.4zM646.56 153.47h1.4V160.96h-1.4zM651.75 156.57h1.4V158.18h-1.4zM653.48 158.18h1.4V158.78h-1.4zM667.33 125.92h1.4V127.51h-1.4zM679.45 84.26h1.4V87.43h-1.4zM681.18 87.43h1.4V93.80h-1.4zM689.83 60.02h1.4V74.06h-1.4zM695.02 56.44h1.4V59.92h-1.4zM696.76 59.92h1.4V61.68h-1.4zM701.95 57.61h1.4V61.37h-1.4zM703.68 61.37h1.4V69.32h-1.4zM708.87 59.21h1.4V72.52h-1.4zM710.60 72.52h1.4V89.59h-1.4zM717.53 82.73h1.4V88.09h-1.4zM719.26 88.09h1.4V89.93h-1.4zM720.99 89.93h1.4V90.79h-1.4zM724.45 90.45h1.4V95.28h-1.4zM734.84 69.32h1.4V69.92h-1.4zM738.30 66.05h1.4V74.32h-1.4zM741.76 71.52h1.4V77.40h-1.4zM748.69 55.97h1.4V56.57h-1.4zM755.61 52.26h1.4V58.40h-1.4zM757.34 58.40h1.4V60.22h-1.4zM759.07 60.22h1.4V68.84h-1.4zM762.53 68.01h1.4V72.14h-1.4zM766.00 67.20h1.4V71.39h-1.4zM767.73 71.39h1.4V78.65h-1.4zM771.19 76.86h1.4V86.94h-1.4zM778.11 78.10h1.4V83.79h-1.4zM783.31 83.03h1.4V84.57h-1.4zM788.50 72.02h1.4V72.62h-1.4zM790.23 72.52h1.4V78.10h-1.4zM791.96 78.10h1.4V81.68h-1.4zM793.69 81.68h1.4V82.28h-1.4zM795.42 81.98h1.4V83.49h-1.4zM797.15 83.49h1.4V90.79h-1.4zM798.88 90.79h1.4V95.65h-1.4zM800.62 95.65h1.4V99.33h-1.4zM802.35 99.33h1.4V100.14h-1.4zM805.81 98.34h1.4V105.21h-1.4zM807.54 105.21h1.4V120.52h-1.4zM811.00 119.10h1.4V124.06h-1.4zM814.46 119.54h1.4V120.47h-1.4z" fill="#b84e56" stroke="#2e3138" stroke-width="0.3"/>
<clipPath id="pc"><rect x="872" y="0" width="48" height="476"/></clipPath>
<g clip-path="url(#pc)"><text x="878.35" y="29.80" font-size="7.5" fill="#131722" font-weight="normal" stroke="#131722" stroke-width="0.06" textLength="33.93" lengthAdjust="spacingAndGlyphs" >100000.00</text><text x="878.53" y="49.10" font-size="7.5" fill="#131722" font-weight="normal" stroke="#131722" stroke-width="0.06" textLength="30.15" lengthAdjust="spacingAndGlyphs" >72000.00</text><text x="878.61" y="68.22" font-size="7.5" fill="#131722" font-weight="normal" stroke="#131722" stroke-width="0.06" textLength="30.07" lengthAdjust="spacingAndGlyphs" >52000.00</text><text x="878.63" y="88.22" font-size="7.5" fill="#131722" font-weight="normal" stroke="#131722" stroke-width="0.06" textLength="30.06" lengthAdjust="spacingAndGlyphs" >37000.00</text><text x="878.54" y="111.26" font-size="7.5" fill="#131722" font-weight="normal" stroke="#131722" stroke-width="0.06" textLength="30.15" lengthAdjust="spacingAndGlyphs" >25000.00</text><text x="878.35" y="130.56" font-size="7.5" fill="#131722" font-weight="normal" stroke="#131722" stroke-width="0.06" textLength="30.34" lengthAdjust="spacingAndGlyphs" >18000.00</text><text x="878.35" y="149.68" font-size="7.5" fill="#131722" font-weight="normal" stroke="#131722" stroke-width="0.06" textLength="30.34" lengthAdjust="spacingAndGlyphs" >13000.00</text><text x="878.56" y="171.29" font-size="7.5" fill="#131722" font-weight="normal" stroke="#131722" stroke-width="0.06" textLength="26.53" lengthAdjust="spacingAndGlyphs" >9000.00</text><text x="878.53" y="193.19" font-size="7.5" fill="#131722" font-weight="normal" stroke="#131722" stroke-width="0.06" textLength="26.56" lengthAdjust="spacingAndGlyphs" >6200.00</text><text x="878.73" y="212.68" font-size="7.5" fill="#131722" font-weight="normal" stroke="#131722" stroke-width="0.06" textLength="26.35" lengthAdjust="spacingAndGlyphs" >4450.00</text><text x="878.62" y="234.87" font-size="7.5" fill="#131722" font-weight="normal" stroke="#131722" stroke-width="0.06" textLength="26.46" lengthAdjust="spacingAndGlyphs" >3050.00</text><text x="878.53" y="258.22" font-size="7.5" fill="#131722" font-weight="normal" stroke="#131722" stroke-width="0.06" textLength="26.56" lengthAdjust="spacingAndGlyphs" >2050.00</text><text x="878.34" y="278.57" font-size="7.5" fill="#131722" font-weight="normal" stroke="#131722" stroke-width="0.06" textLength="26.75" lengthAdjust="spacingAndGlyphs" >1450.00</text><text x="878.34" y="297.53" font-size="7.5" fill="#131722" font-weight="normal" stroke="#131722" stroke-width="0.06" textLength="26.75" lengthAdjust="spacingAndGlyphs" >1050.00</text><text x="878.51" y="318.89" font-size="7.5" fill="#131722" font-weight="normal" stroke="#131722" stroke-width="0.06" textLength="22.98" lengthAdjust="spacingAndGlyphs" >730.00</text><text x="878.60" y="337.71" font-size="7.5" fill="#131722" font-weight="normal" stroke="#131722" stroke-width="0.06" textLength="22.89" lengthAdjust="spacingAndGlyphs" >530.00</text><text x="878.62" y="358.82" font-size="7.5" fill="#131722" font-weight="normal" stroke="#131722" stroke-width="0.06" textLength="22.88" lengthAdjust="spacingAndGlyphs" >370.00</text><text x="878.52" y="381.86" font-size="7.5" fill="#131722" font-weight="normal" stroke="#131722" stroke-width="0.06" textLength="22.97" lengthAdjust="spacingAndGlyphs" >250.00</text><text x="878.32" y="401.16" font-size="7.5" fill="#131722" font-weight="normal" stroke="#131722" stroke-width="0.06" textLength="23.17" lengthAdjust="spacingAndGlyphs" >180.00</text><text x="878.32" y="420.28" font-size="7.5" fill="#131722" font-weight="normal" stroke="#131722" stroke-width="0.06" textLength="23.17" lengthAdjust="spacingAndGlyphs" >130.00</text><text x="878.54" y="439.34" font-size="7.5" fill="#131722" font-weight="normal" stroke="#131722" stroke-width="0.06" textLength="19.37" lengthAdjust="spacingAndGlyphs" >94.00</text><text x="878.51" y="458.36" font-size="7.5" fill="#131722" font-weight="normal" stroke="#131722" stroke-width="0.06" textLength="19.40" lengthAdjust="spacingAndGlyphs" >68.00</text><text x="878.72" y="477.62" font-size="7.5" fill="#131722" font-weight="normal" stroke="#131722" stroke-width="0.06" textLength="19.18" lengthAdjust="spacingAndGlyphs" >49.00</text></g>
<rect x="872.2" y="115" width="39.6" height="12.8" rx="1" fill="#2962ff"/>
<text x="878.53" y="123.20" font-size="7.8" fill="#ffffff" font-weight="normal" stroke="#ffffff" stroke-width="0.15" textLength="30.38" lengthAdjust="spacingAndGlyphs" >20518.88</text>
<circle cx="15.9" cy="462.8" r="10.6" fill="#fff" stroke="#e6e7ea" stroke-width="0.8"/>
<g transform="translate(9.2,458.4) scale(0.37)" fill="#131722"><path d="M14 22H7V11H0V4h14v18zM28 22h-8l7.5-18h8L28 22z"/><circle cx="20.6" cy="7.2" r="3.3"/></g>
<g transform="translate(50.25,26)" fill="none" stroke="#50535e" stroke-width="0.9"><path d="M-4.8 0C-3.2 -2.6 -1.6 -3.4 0 -3.4S3.2 -2.6 4.8 0C3.2 2.6 1.6 3.4 0 3.4S-3.2 2.6 -4.8 0Z"/><circle r="1.5"/><path d="M-3.4 3.2L3.6 -3.2"/></g>
<g transform="translate(28.9,55.9)" fill="none" stroke="#50535e" stroke-width="0.9"><path d="M-4.8 0C-3.2 -2.6 -1.6 -3.4 0 -3.4S3.2 -2.6 4.8 0C3.2 2.6 1.6 3.4 0 3.4S-3.2 2.6 -4.8 0Z"/><circle r="1.5"/><path d="M-3.4 3.2L3.6 -3.2"/></g>
<rect x="7.8" y="65.6" width="16.5" height="11.5" rx="1.8" fill="#fff" stroke="#e0e3eb" stroke-width="1"/>
<path d="M13.6 72.5L16 70.2L18.4 72.5" stroke="#131722" stroke-width="1" fill="none"/>
<path d="M893 8.2L894.5 9.6L896 8.2" stroke="#131722" stroke-width="0.9" fill="none"/>
<g transform="translate(895.4,485)">
<circle r="3.05" fill="none" stroke="#3b3e48" stroke-width="0.9"/>
<path d="M-0.97 -3.36L0.00 -4.90L0.97 -3.36ZM1.69 -3.06L3.46 -3.46L3.06 -1.69ZM3.36 -0.97L4.90 0.00L3.36 0.97ZM3.06 1.69L3.46 3.46L1.69 3.06ZM0.97 3.36L0.00 4.90L-0.97 3.36ZM-1.69 3.06L-3.46 3.46L-3.06 1.69ZM-3.36 0.97L-4.90 0.00L-3.36 -0.97ZM-3.06 -1.69L-3.46 -3.46L-1.69 -3.06Z" fill="#3b3e48"/>
</g>
<rect x="0" y="493" width="920" height="1" fill="#cfd0d3"/>
<rect x="0" y="494" width="920" height="1" fill="#0c0f17"/>
<rect x="0" y="495" width="920" height="22" fill="#141822"/>
<line x1="187.6" y1="500" x2="187.6" y2="512.5" stroke="#2a2e39" stroke-width="1"/>
<line x1="848" y1="500" x2="848" y2="512.5" stroke="#2a2e39" stroke-width="1"/>
<g fill="none" stroke="#9598a1" stroke-width="1" stroke-linecap="round" stroke-linejoin="round">
<path d="M198.6 505.2V503a1.6 1.6 0 0 1 1.6 -1.6h6.6a1.6 1.6 0 0 1 1.6 1.6v5.8a1.6 1.6 0 0 1 -1.6 1.6h-3.3"/>
<path d="M198.6 504.2H208.4"/>
<path d="M201.3 501V502.3M205.6 501V502.3"/>
<path d="M197.7 508.5H203M200.5 506.3L203 508.5L200.5 510.7"/>
</g>
<text x="6.34" y="14.60" font-size="9.8" fill="#131722" font-weight="normal" stroke="#131722" stroke-width="0.15" textLength="31.54" lengthAdjust="spacingAndGlyphs" >Bitcoin</text><text x="42.20" y="14.60" font-size="9.8" fill="#131722" font-weight="normal" stroke="#131722" stroke-width="0.15" textLength="2.60" lengthAdjust="spacingAndGlyphs" >/</text><text x="48.55" y="14.60" font-size="9.8" fill="#131722" font-weight="normal" stroke="#131722" stroke-width="0.15" textLength="18.83" lengthAdjust="spacingAndGlyphs" >U.S.</text><text x="69.57" y="14.60" font-size="9.8" fill="#131722" font-weight="normal" stroke="#131722" stroke-width="0.15" textLength="26.50" lengthAdjust="spacingAndGlyphs" >Dollar</text><text x="104.20" y="14.60" font-size="9.8" fill="#131722" font-weight="normal" stroke="#131722" stroke-width="0.15" textLength="13.73" lengthAdjust="spacingAndGlyphs" >1W</text><text x="125.31" y="14.60" font-size="9.8" fill="#131722" font-weight="normal" stroke="#131722" stroke-width="0.15" textLength="26.07" lengthAdjust="spacingAndGlyphs" >INDEX</text><text x="158.48" y="14.60" font-size="9.8" fill="#131722" font-weight="normal" stroke="#131722" stroke-width="0.15" textLength="53.49" lengthAdjust="spacingAndGlyphs" >TradingView</text><circle cx="100.6" cy="11.4" r="0.75" fill="#7d808a"/><circle cx="121.6" cy="11.4" r="0.75" fill="#7d808a"/><circle cx="155.4" cy="11.4" r="0.75" fill="#7d808a"/><text x="217.53" y="14.50" font-size="8.4" fill="#131722" font-weight="normal" stroke="#131722" stroke-width="0.1" textLength="38.92" lengthAdjust="spacingAndGlyphs" >O20845.93</text><text x="260.06" y="14.50" font-size="8.4" fill="#131722" font-weight="normal" stroke="#131722" stroke-width="0.1" textLength="38.44" lengthAdjust="spacingAndGlyphs" >H20853.02</text><text x="301.85" y="14.50" font-size="8.4" fill="#131722" font-weight="normal" stroke="#131722" stroke-width="0.1" textLength="37.55" lengthAdjust="spacingAndGlyphs" >L20253.82</text><text x="343.31" y="14.50" font-size="8.4" fill="#131722" font-weight="normal" stroke="#131722" stroke-width="0.1" textLength="37.62" lengthAdjust="spacingAndGlyphs" >C20518.88</text><text x="385.43" y="14.50" font-size="8.4" fill="#131722" font-weight="normal" stroke="#131722" stroke-width="0.1" textLength="27.70" lengthAdjust="spacingAndGlyphs" >−324.24</text><text x="416.24" y="14.50" font-size="8.4" fill="#131722" font-weight="normal" stroke="#131722" stroke-width="0.1" textLength="30.32" lengthAdjust="spacingAndGlyphs" >(−1.56%)</text><text x="6.12" y="29.40" font-size="8.6" fill="#b6b9c1" font-weight="normal" stroke="#b6b9c1" stroke-width="0.15" textLength="33.63" lengthAdjust="spacingAndGlyphs" >Ichimoku</text><text x="6.37" y="43.90" font-size="8.6" fill="#131722" font-weight="normal" stroke="#131722" stroke-width="0.15" textLength="38.13" lengthAdjust="spacingAndGlyphs" >MA Ribbon</text><text x="6.87" y="59.10" font-size="8.6" fill="#b6b9c1" font-weight="normal" stroke="#b6b9c1" stroke-width="0.15" textLength="11.36" lengthAdjust="spacingAndGlyphs" >Vol</text><text x="877.70" y="12.70" font-size="9.0" fill="#131722" font-weight="normal" stroke="#131722" stroke-width="0.15" textLength="13.61" lengthAdjust="spacingAndGlyphs" >USD</text><text x="37.83" y="488.30" font-size="7.7" fill="#131722" font-weight="bold" stroke="#131722" stroke-width="0.15" textLength="17.31" lengthAdjust="spacingAndGlyphs" >2014</text><text x="127.63" y="488.30" font-size="7.7" fill="#131722" font-weight="bold" stroke="#131722" stroke-width="0.15" textLength="17.49" lengthAdjust="spacingAndGlyphs" >2015</text><text x="217.83" y="488.30" font-size="7.7" fill="#131722" font-weight="bold" stroke="#131722" stroke-width="0.15" textLength="17.56" lengthAdjust="spacingAndGlyphs" >2016</text><text x="307.63" y="488.30" font-size="7.7" fill="#131722" font-weight="bold" stroke="#131722" stroke-width="0.15" textLength="17.62" lengthAdjust="spacingAndGlyphs" >2017</text><text x="397.83" y="488.30" font-size="7.7" fill="#131722" font-weight="bold" stroke="#131722" stroke-width="0.15" textLength="17.52" lengthAdjust="spacingAndGlyphs" >2018</text><text x="489.63" y="488.30" font-size="7.7" fill="#131722" font-weight="bold" stroke="#131722" stroke-width="0.15" textLength="17.57" lengthAdjust="spacingAndGlyphs" >2019</text><text x="579.43" y="488.30" font-size="7.7" fill="#131722" font-weight="bold" stroke="#131722" stroke-width="0.15" textLength="17.60" lengthAdjust="spacingAndGlyphs" >2020</text><text x="669.63" y="488.30" font-size="7.7" fill="#131722" font-weight="bold" stroke="#131722" stroke-width="0.15" textLength="17.49" lengthAdjust="spacingAndGlyphs" >2021</text><text x="759.83" y="488.30" font-size="7.7" fill="#131722" font-weight="bold" stroke="#131722" stroke-width="0.15" textLength="17.59" lengthAdjust="spacingAndGlyphs" >2022</text><text x="849.63" y="488.30" font-size="7.7" fill="#131722" font-weight="bold" stroke="#131722" stroke-width="0.15" textLength="17.56" lengthAdjust="spacingAndGlyphs" >2023</text><text x="10.97" y="509.20" font-size="8.3" fill="#c9ccd4" font-weight="normal" stroke="#c9ccd4" stroke-width="0.15" textLength="10.63" lengthAdjust="spacingAndGlyphs" >1D</text><text x="29.58" y="509.20" font-size="8.3" fill="#c9ccd4" font-weight="normal" stroke="#c9ccd4" stroke-width="0.15" textLength="10.31" lengthAdjust="spacingAndGlyphs" >5D</text><text x="48.37" y="509.20" font-size="8.3" fill="#c9ccd4" font-weight="normal" stroke="#c9ccd4" stroke-width="0.15" textLength="11.51" lengthAdjust="spacingAndGlyphs" >1M</text><text x="67.78" y="509.20" font-size="8.3" fill="#c9ccd4" font-weight="normal" stroke="#c9ccd4" stroke-width="0.15" textLength="11.82" lengthAdjust="spacingAndGlyphs" >3M</text><text x="86.87" y="509.20" font-size="8.3" fill="#c9ccd4" font-weight="normal" stroke="#c9ccd4" stroke-width="0.15" textLength="11.83" lengthAdjust="spacingAndGlyphs" >6M</text><text x="106.83" y="509.20" font-size="8.3" fill="#c9ccd4" font-weight="normal" stroke="#c9ccd4" stroke-width="0.15" textLength="15.23" lengthAdjust="spacingAndGlyphs" >YTD</text><text x="130.28" y="509.20" font-size="8.3" fill="#c9ccd4" font-weight="normal" stroke="#c9ccd4" stroke-width="0.15" textLength="9.89" lengthAdjust="spacingAndGlyphs" >1Y</text><text x="148.78" y="509.20" font-size="8.3" fill="#c9ccd4" font-weight="normal" stroke="#c9ccd4" stroke-width="0.15" textLength="9.69" lengthAdjust="spacingAndGlyphs" >5Y</text><text x="166.98" y="509.20" font-size="8.3" fill="#c9ccd4" font-weight="normal" stroke="#c9ccd4" stroke-width="0.15" textLength="10.87" lengthAdjust="spacingAndGlyphs" >All</text><text x="770.65" y="508.70" font-size="8.3" fill="#c9ccd4" font-weight="normal" stroke="#c9ccd4" stroke-width="0.15" textLength="66.48" lengthAdjust="spacingAndGlyphs" >16:09:07 (UTC-4)</text><text x="857.56" y="509.70" font-size="10.5" fill="#c9ccd4" font-weight="normal" stroke="#c9ccd4" stroke-width="0.15" textLength="8.59" lengthAdjust="spacingAndGlyphs" >%</text><text x="874.29" y="508.90" font-size="8.0" fill="#2962ff" font-weight="normal" stroke="#2962ff" stroke-width="0.15" textLength="11.98" lengthAdjust="spacingAndGlyphs" >log</text><text x="894.92" y="508.90" font-size="8.0" fill="#2962ff" font-weight="normal" stroke="#2962ff" stroke-width="0.15" textLength="17.46" lengthAdjust="spacingAndGlyphs" >auto</text>
</svg>
<div style="position:absolute;left:0;top:0;width:920px;height:1px;background:#000"></div>
<div style="position:absolute;left:0;top:1px;width:920px;height:1px;background:#8c8c8c"></div>
<div style="position:absolute;left:0;top:0;width:1px;height:519px;background:#000"></div>
<div style="position:absolute;left:1px;top:1px;width:1px;height:493px;background:#8c8c8c"></div><div style="position:absolute;left:1px;top:494px;width:1px;height:23px;background:#0a0c12"></div>
<div style="position:absolute;left:919px;top:0;width:1px;height:519px;background:#000"></div>
<div style="position:absolute;left:918px;top:1px;width:1px;height:493px;background:#8c8c8c"></div><div style="position:absolute;left:918px;top:494px;width:1px;height:23px;background:#0a0c12"></div>
<div style="position:absolute;left:1px;top:517px;width:918px;height:1px;background:#b4b4b4"></div>
<div style="position:absolute;left:0;top:518px;width:920px;height:1px;background:#000"></div>
</body></html>
